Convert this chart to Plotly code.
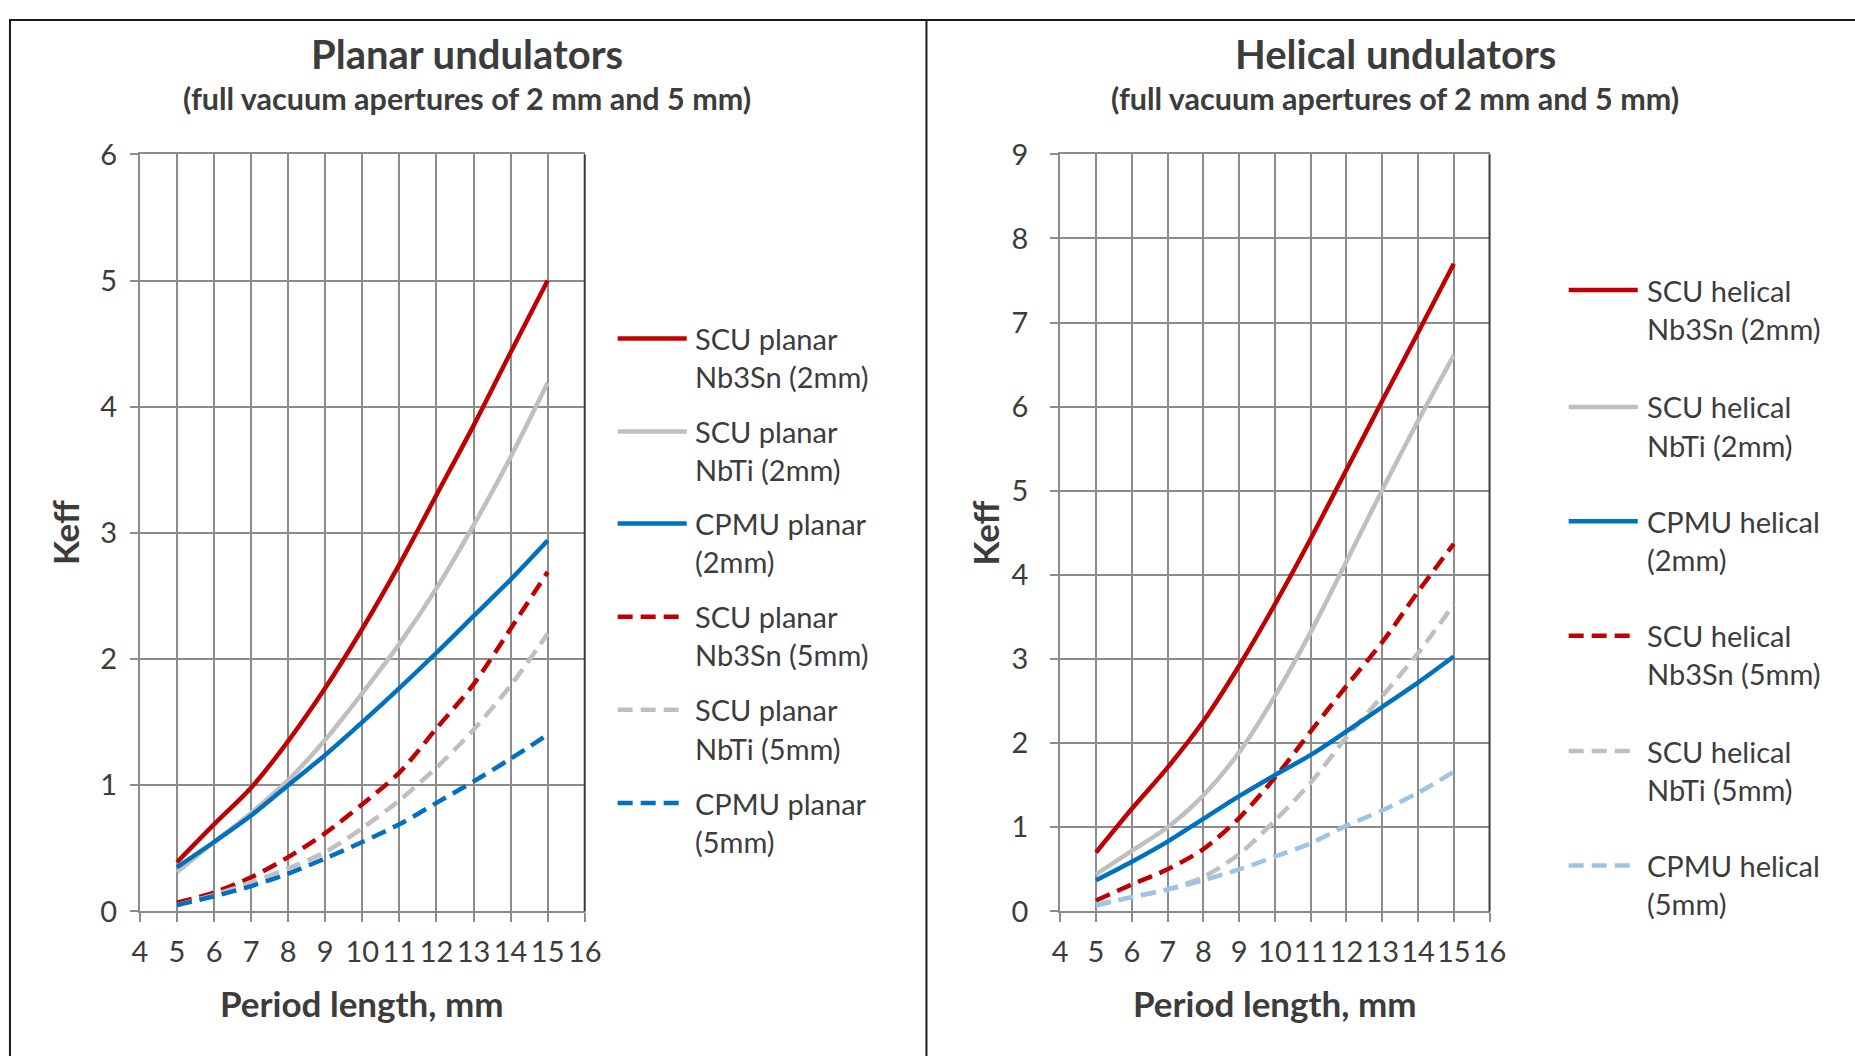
import plotly.graph_objects as go

# Period length, mm
period = [5, 6, 7, 8, 9, 10, 11, 12, 13, 14, 15]

# Planar undulators, Keff
planar_scu_nb3sn_2mm = [0.39, 0.69, 0.98, 1.35, 1.77, 2.24, 2.75, 3.30, 3.85, 4.43, 5.00]
planar_scu_nbti_2mm = [0.31, 0.55, 0.78, 1.04, 1.36, 1.73, 2.12, 2.56, 3.06, 3.60, 4.19]
planar_cpmu_2mm = [0.35, 0.55, 0.76, 1.00, 1.24, 1.50, 1.77, 2.05, 2.34, 2.63, 2.94]
planar_scu_nb3sn_5mm = [0.07, 0.15, 0.27, 0.43, 0.62, 0.85, 1.10, 1.45, 1.80, 2.24, 2.69]
planar_scu_nbti_5mm = [0.05, 0.13, 0.23, 0.34, 0.47, 0.66, 0.88, 1.14, 1.44, 1.79, 2.20]
planar_cpmu_5mm = [0.05, 0.12, 0.20, 0.30, 0.42, 0.55, 0.69, 0.86, 1.03, 1.21, 1.40]

# Helical undulators, Keff
helical_scu_nb3sn_2mm = [0.70, 1.22, 1.71, 2.26, 2.92, 3.65, 4.43, 5.25, 6.07, 6.88, 7.70]
helical_scu_nbti_2mm = [0.44, 0.72, 1.00, 1.38, 1.89, 2.56, 3.32, 4.16, 5.01, 5.83, 6.61]
helical_cpmu_2mm = [0.37, 0.59, 0.83, 1.10, 1.37, 1.62, 1.86, 2.14, 2.43, 2.72, 3.03]
helical_scu_nb3sn_5mm = [0.13, 0.32, 0.50, 0.74, 1.11, 1.59, 2.14, 2.68, 3.20, 3.80, 4.37]
helical_scu_nbti_5mm = [0.08, 0.17, 0.26, 0.41, 0.68, 1.08, 1.53, 2.07, 2.56, 3.07, 3.65]
helical_cpmu_5mm = [0.07, 0.17, 0.26, 0.37, 0.50, 0.65, 0.81, 1.02, 1.20, 1.41, 1.66]

planar_names = ["SCU planar<br>Nb3Sn (2mm)", "SCU planar<br>NbTi (2mm)", "CPMU planar<br>(2mm)",
                "SCU planar<br>Nb3Sn (5mm)", "SCU planar<br>NbTi (5mm)", "CPMU planar<br>(5mm)"]
helical_names = ["SCU helical<br>Nb3Sn (2mm)", "SCU helical<br>NbTi (2mm)", "CPMU helical<br>(2mm)",
                 "SCU helical<br>Nb3Sn (5mm)", "SCU helical<br>NbTi (5mm)", "CPMU helical<br>(5mm)"]

x_ticks = list(range(4, 17))
planar_y_ticks = list(range(0, 7))
helical_y_ticks = list(range(0, 10))

RED = "#C00000"
GREY = "#BFBFBF"
BLUE = "#0070C0"
LIGHT_BLUE = "#9DC3E6"
TEXT = "#3C3C3C"
GRID = "#8C8C8C"
FONT = "Lato"
DASH = "15px,8px"

W, H = 1855, 1056


def px(x):
    return x / W


def py(y):
    return 1 - y / H


planar_series = [
    (planar_scu_nb3sn_2mm, RED, "solid"),
    (planar_scu_nbti_2mm, GREY, "solid"),
    (planar_cpmu_2mm, BLUE, "solid"),
    (planar_scu_nb3sn_5mm, RED, DASH),
    (planar_scu_nbti_5mm, GREY, DASH),
    (planar_cpmu_5mm, BLUE, DASH),
]
helical_series = [
    (helical_scu_nb3sn_2mm, RED, "solid"),
    (helical_scu_nbti_2mm, GREY, "solid"),
    (helical_cpmu_2mm, BLUE, "solid"),
    (helical_scu_nb3sn_5mm, RED, DASH),
    (helical_scu_nbti_5mm, GREY, DASH),
    (helical_cpmu_5mm, LIGHT_BLUE, DASH),
]

fig = go.Figure()

# draw dashed (5 mm) curves first so the solid ones sit on top
for series, xa, ya, names in [(planar_series, "x", "y", planar_names),
                              (helical_series, "x2", "y2", helical_names)]:
    for i in [3, 4, 5, 0, 1, 2]:
        vals, color, dash = series[i]
        fig.add_trace(go.Scatter(
            x=period, y=vals, mode="lines", name=names[i].replace("<br>", " "),
            line=dict(color=color, width=4.5, dash=dash, shape="spline", smoothing=0.8),
            xaxis=xa, yaxis=ya, showlegend=False, hoverinfo="skip",
        ))

# plot-area placement (pixels)
plot_top, plot_bottom = 140.0, 923.0
left_x0, left_x1 = 133.7, 584.6
right_x0, right_x1 = 1066.6, 1501.8

axis_common = dict(
    showgrid=True, gridcolor=GRID, gridwidth=2,
    showline=True, linecolor=GRID, linewidth=2,
    ticks="outside", tickcolor=GRID, tickwidth=2, tickangle=0,
    tickfont=dict(family=FONT, size=29, color=TEXT),
    zeroline=False, fixedrange=True,
)

fig.update_layout(
    width=W, height=H,
    margin=dict(l=0, r=0, t=0, b=0),
    paper_bgcolor="white", plot_bgcolor="white",
    showlegend=False,
    xaxis=dict(domain=[px(left_x0), px(left_x1)], range=[4, 16], tickvals=x_ticks,
               ticklen=9, ticklabelstandoff=5, mirror=True, anchor="y", **axis_common),
    yaxis=dict(domain=[py(plot_bottom), py(plot_top)], range=[0, 6], tickvals=planar_y_ticks,
               ticklen=8, ticklabelstandoff=7, anchor="x", **axis_common),
    xaxis2=dict(domain=[px(right_x0), px(right_x1)], range=[4, 16], tickvals=x_ticks,
                ticklen=9, ticklabelstandoff=5, mirror=True, anchor="y2", **axis_common),
    yaxis2=dict(domain=[py(plot_bottom), py(plot_top)], range=[0, 9], tickvals=helical_y_ticks,
                ticklen=8, ticklabelstandoff=16, anchor="x2", **axis_common),
)

shapes = []
annotations = []

# dark right edge of each plot area
for xr, yr in [("x domain", "y domain"), ("x2 domain", "y2 domain")]:
    shapes.append(dict(type="line", xref=xr, yref=yr, x0=1, x1=1, y0=0, y1=1,
                       line=dict(color="#3A3A3A", width=2)))

# panel frames
shapes.append(dict(type="rect", xref="paper", yref="paper",
                   x0=px(2), x1=px(1875), y0=py(1080), y1=py(1),
                   line=dict(color="#1A1A1A", width=2)))
shapes.append(dict(type="line", xref="paper", yref="paper",
                   x0=px(931), x1=px(931), y0=py(1080), y1=py(1),
                   line=dict(color="#1A1A1A", width=2)))

# titles
for cx, title in [(465.5, "Planar undulators"), (1406, "Helical undulators")]:
    annotations.append(dict(xref="paper", yref="paper", x=px(cx), y=py(36), text=f"<b>{title}</b>",
                            showarrow=False, xanchor="center", yanchor="middle",
                            font=dict(family=FONT, size=40, color=TEXT)))
    annotations.append(dict(xref="paper", yref="paper", x=px(cx), y=py(82),
                            text="<b>(full vacuum apertures of 2 mm and 5 mm)</b>",
                            showarrow=False, xanchor="center", yanchor="middle",
                            font=dict(family=FONT, size=30.5, color=TEXT)))

# axis titles
for cx, kx in [((left_x0 + left_x1) / 2, 58), ((right_x0 + right_x1) / 2, 990)]:
    annotations.append(dict(xref="paper", yref="paper", x=px(cx), y=py(1018),
                            text="<b>Period length, mm</b>", showarrow=False,
                            xanchor="center", yanchor="middle",
                            font=dict(family=FONT, size=35, color=TEXT)))
    annotations.append(dict(xref="paper", yref="paper", x=px(kx), y=py((plot_top + plot_bottom) / 2),
                            text="<b>Keff</b>", showarrow=False, textangle=-90,
                            xanchor="center", yanchor="middle",
                            font=dict(family=FONT, size=35, color=TEXT)))

# legends: sample line, then the name on two lines
LEGEND_LINE_GAP = 39.5
legend_specs = [
    (planar_series, planar_names, 618, 688, 694, [330.4, 426.7, 521.8, 618.2, 714.5, 810.9]),
    (helical_series, helical_names, 1582, 1652, 1659, [280.4, 401.2, 519.5, 637.8, 757.2, 875.5]),
]
for series, names, lx0, lx1, tx, ys in legend_specs:
    for (vals, color, dash), name, yy in zip(series, names, ys):
        end = lx1 if dash == "solid" else lx1 - 8
        shapes.append(dict(type="line", xref="paper", yref="paper",
                           x0=px(lx0), x1=px(end), y0=py(yy), y1=py(yy),
                           line=dict(color=color, width=4.5, dash=dash)))
        for k, part in enumerate(name.split("<br>")):
            annotations.append(dict(xref="paper", yref="paper", x=px(tx), y=py(yy + k * LEGEND_LINE_GAP),
                                    text=part, showarrow=False, align="left",
                                    xanchor="left", yanchor="middle",
                                    font=dict(family=FONT, size=29, color=TEXT)))

fig.update_layout(shapes=shapes, annotations=annotations)

fig.write_html("out.html")
